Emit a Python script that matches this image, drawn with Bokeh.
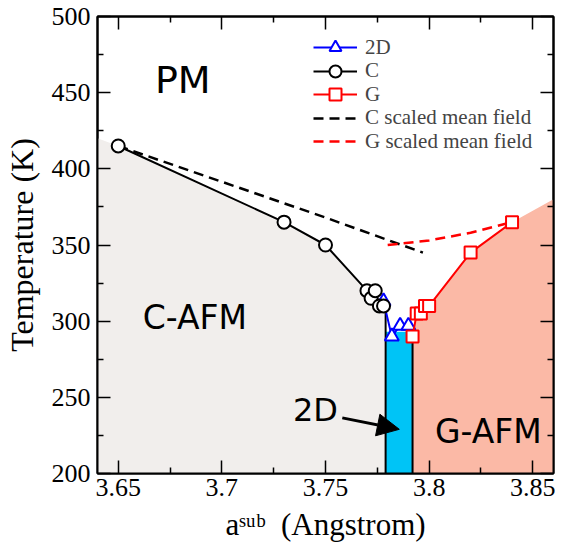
from bokeh.plotting import figure
from bokeh.models import (FixedTicker, LinearAxis, NumeralTickFormatter, CustomJSTickFormatter,
                          Legend, LegendItem, Label, Arrow, NormalHead)
from bokeh.embed import file_html
from bokeh.resources import INLINE

# ---------------- data ----------------
c_x = [3.65, 3.73, 3.75, 3.77, 3.772, 3.774, 3.776, 3.778]
c_t = [415, 365, 350, 320, 315, 320, 310, 310]

d2_x = [3.778, 3.782, 3.786, 3.790]
d2_t = [313, 290, 297, 297]

g_x = [3.792, 3.794, 3.796, 3.798, 3.800, 3.820, 3.840]
g_t = [290, 305, 305, 310, 310, 345, 365]

cmf_x = [3.65, 3.75, 3.797]
cmf_t = [415, 368, 345]

gmf_x = [3.78, 3.80, 3.82, 3.84]
gmf_t = [350, 353, 358, 365]

# phase-region boundaries
x_lo, x_hi = 3.64, 3.86
t_lo, t_hi = 200, 500
c_afm_left_t = 420      # C-AFM boundary at left edge
c_afm_right_x = 3.779   # C-AFM / 2D boundary
g_afm_right_t = 380     # G-AFM boundary at right edge
d2_left, d2_right, d2_top = 3.779, 3.792, 293

x_major = [3.65, 3.70, 3.75, 3.80, 3.85]
x_minor = [3.675, 3.725, 3.775, 3.825]
y_major = [200, 250, 300, 350, 400, 450, 500]
y_minor = [225, 275, 325, 375, 425, 475]

legend_labels = ["2D", "C", "G", "C scaled mean field", "G scaled mean field"]

x_title = "a\u02e2\u1d58\u1d47\u00a0\u00a0(Angstrom)"
y_title = "Temperature (K)"

SERIF = "Liberation Serif"
SANS = "DejaVu Sans"

p = figure(width=555, height=544, x_range=(x_lo, x_hi), y_range=(t_lo, t_hi),
           output_backend="svg", toolbar_location=None,
           min_border_left=93, min_border_right=2, min_border_top=16, min_border_bottom=68)
p.xgrid.visible = False
p.ygrid.visible = False
p.outline_line_color = "black"
p.outline_line_width = 2
p.background_fill_color = "white"
p.border_fill_color = "white"

xt = FixedTicker(ticks=x_major, minor_ticks=x_minor)
yt = FixedTicker(ticks=y_major, minor_ticks=y_minor)

def style_axis(ax, ticker):
    ax.ticker = ticker
    ax.axis_line_width = 2
    ax.major_tick_line_width = 1.5
    ax.minor_tick_line_width = 1.5
    ax.major_tick_in = 13
    ax.major_tick_out = 0
    ax.minor_tick_in = 6
    ax.minor_tick_out = 0
    ax.major_label_text_font = SERIF
    ax.major_label_text_font_size = "26px"
    ax.major_label_text_color = "black"

bx = p.below[0]
style_axis(bx, xt)
bx.formatter = NumeralTickFormatter(format="0.[00]")
bx.major_label_standoff = 5
bx.axis_label = x_title
bx.axis_label_text_font = SERIF
bx.axis_label_text_font_size = "31px"
bx.axis_label_text_font_style = "normal"
bx.axis_label_text_color = "black"
bx.axis_label_standoff = 8

ly = p.left[0]
style_axis(ly, yt)
ly.major_label_standoff = 7
ly.axis_label = y_title
ly.axis_label_text_font = SERIF
ly.axis_label_text_font_size = "32px"
ly.axis_label_text_font_style = "normal"
ly.axis_label_text_color = "black"
ly.axis_label_standoff = 9

top_ax = LinearAxis()
right_ax = LinearAxis()
for ax, tk in ((top_ax, xt), (right_ax, yt)):
    style_axis(ax, tk)
    ax.formatter = CustomJSTickFormatter(code="return ''")
    ax.major_label_text_font_size = "0px"
    ax.major_label_standoff = 0
p.add_layout(top_ax, "above")
p.add_layout(right_ax, "right")

# ---------------- phase regions ----------------
gray_x = [x_lo] + c_x + [c_afm_right_x, x_lo]
gray_y = [c_afm_left_t] + c_t + [t_lo, t_lo]
p.patch(gray_x, gray_y, fill_color="#f1eeec", line_color=None)

sal_x = g_x + [x_hi, x_hi, g_x[0]]
sal_y = g_t + [g_afm_right_t, t_lo, t_lo]
p.patch(sal_x, sal_y, fill_color="#fbb9a6", line_color=None)

p.quad(left=[d2_left], right=[d2_right], bottom=[t_lo], top=[d2_top],
       fill_color="#00c4f6", line_color=None)
p.line([c_afm_right_x, c_afm_right_x], [c_t[-1], t_lo], line_color="black", line_width=2)
p.line([d2_right, d2_right], [g_t[0], t_lo], line_color="black", line_width=2)

# ---------------- curves ----------------
r_cmf = p.line(cmf_x, cmf_t, line_color="black", line_width=2.5, line_dash="10 6")
r_gmf = p.line(gmf_x, gmf_t, line_color="red", line_width=2.5, line_dash="10 6")

r_d2l = p.line(d2_x, d2_t, line_color="blue", line_width=2)
r_d2p = p.scatter(d2_x, d2_t, marker="triangle", size=14, line_color="blue",
                  line_width=2, fill_color="white")

r_gl = p.line(g_x, g_t, line_color="red", line_width=2)
r_gp = p.scatter(g_x, g_t, marker="square", size=12, line_color="red",
                 line_width=2, fill_color="white")

r_cl = p.line(c_x, c_t, line_color="black", line_width=2)
r_cp = p.scatter(c_x, c_t, marker="circle", size=13, line_color="black",
                 line_width=2, fill_color="white")

# one single-row legend per entry, stacked with a fixed pitch
legend_renderers = [[r_d2l, r_d2p], [r_cl, r_cp], [r_gl, r_gp], [r_cmf], [r_gmf]]
row_bottom = 411
row_pitch = 23.5
for i, (lbl, rends) in enumerate(zip(legend_labels, legend_renderers)):
    lg = Legend(items=[LegendItem(label=lbl, renderers=rends)],
                location=(216, row_bottom - i * row_pitch), padding=0, margin=0,
                border_line_color=None, background_fill_alpha=0,
                glyph_width=44, glyph_height=30, label_height=30, spacing=0,
                label_standoff=8, label_text_font=SERIF, label_text_font_size="21px")
    p.add_layout(lg)

# ---------------- annotations ----------------
def lab(x, y, text, size, font=SANS, **kw):
    p.add_layout(Label(x=x, y=y, text=text, text_font=font, text_font_size=size,
                       text_color="black", text_baseline="bottom", **kw))

lab(3.6677, 443.6, "PM", "38px")
lab(3.6618, 289.4, "C-AFM", "33px")
lab(3.8028, 214.7, "G-AFM", "33px")
lab(3.7343, 229.4, "2D", "32px")

p.add_layout(Arrow(end=NormalHead(size=22, fill_color="black", line_color="black"),
                   x_start=3.7581, y_start=236.5, x_end=3.7856, y_end=229.0,
                   line_color="black", line_width=3))

open("out.html", "w").write(file_html(p, INLINE))
